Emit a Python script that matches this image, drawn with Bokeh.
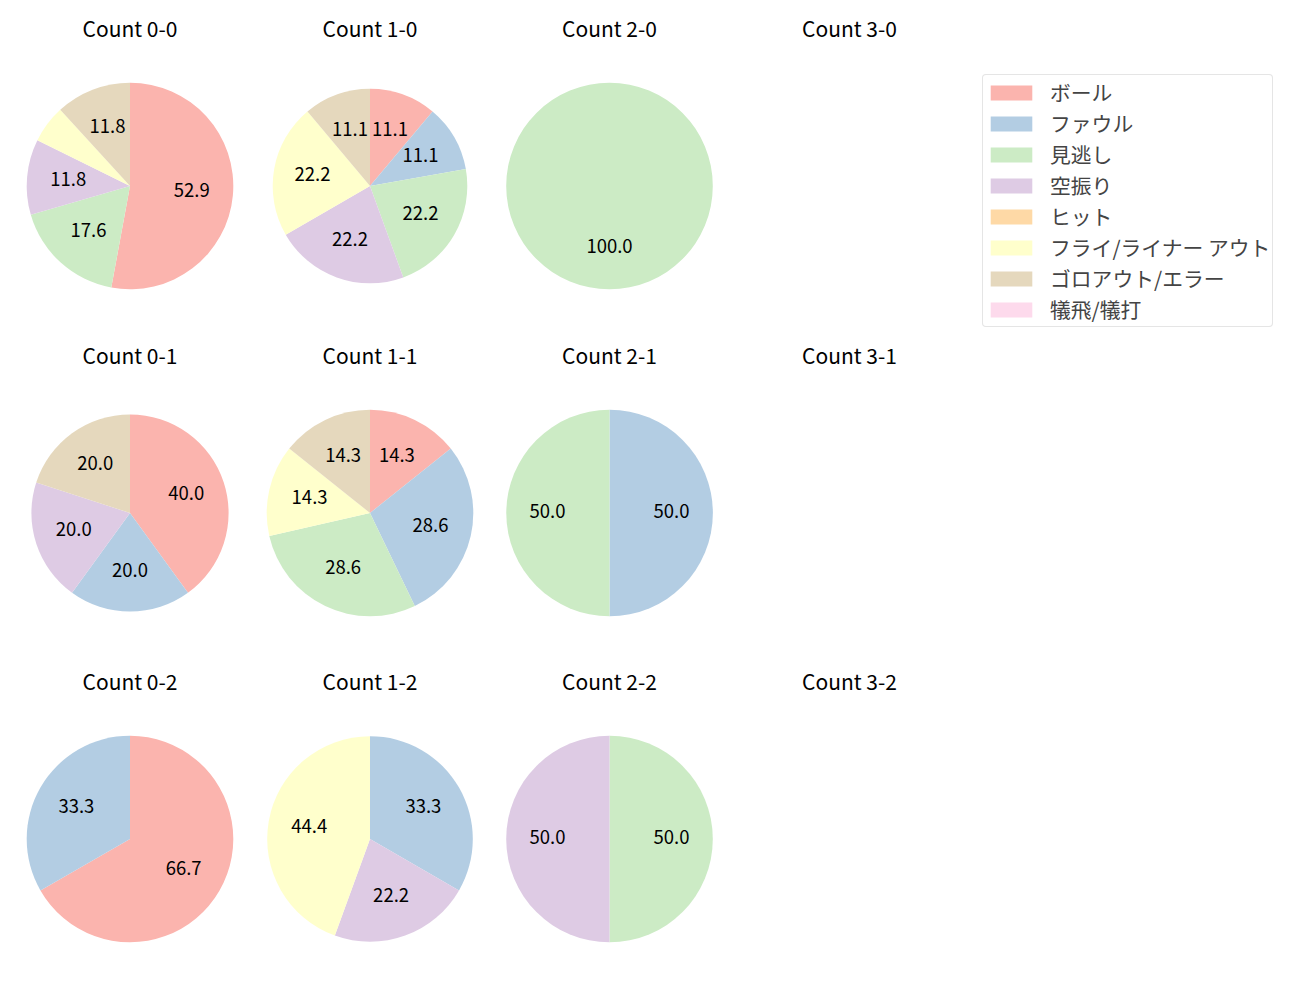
import math
from bokeh.plotting import figure
from bokeh.models import ColumnDataSource, Legend, LegendItem, Range1d
from bokeh.embed import file_html
from bokeh.resources import INLINE
from bokeh.core.properties import value

# ---------------- data ----------------
categories = ["ボール", "ファウル", "見逃し", "空振り", "ヒット",
              "フライ/ライナー アウト", "ゴロアウト/エラー", "犠飛/犠打"]
colors = ["#fbb4ae", "#b3cde3", "#ccebc5", "#decbe4",
          "#fed9a6", "#ffffcc", "#e5d8bd", "#fddaec"]

balls = [0, 1, 2, 3]
strikes = [0, 1, 2]

# percentage of each category (same order as categories) per count "balls-strikes"
pct_0_0 = [52.9, 0, 17.6, 11.8, 0, 5.9, 11.8, 0]
pct_1_0 = [11.1, 11.1, 22.2, 22.2, 0, 22.2, 11.1, 0]
pct_2_0 = [0, 0, 100.0, 0, 0, 0, 0, 0]
pct_3_0 = []
pct_0_1 = [40.0, 20.0, 0, 20.0, 0, 0, 20.0, 0]
pct_1_1 = [14.3, 28.6, 28.6, 0, 0, 14.3, 14.3, 0]
pct_2_1 = [0, 50.0, 50.0, 0, 0, 0, 0, 0]
pct_3_1 = []
pct_0_2 = [66.7, 33.3, 0, 0, 0, 0, 0, 0]
pct_1_2 = [0, 33.3, 0, 22.2, 0, 44.4, 0, 0]
pct_2_2 = [0, 0, 50.0, 50.0, 0, 0, 0, 0]
pct_3_2 = []

panels = {
    (0, 0): pct_0_0, (1, 0): pct_1_0, (2, 0): pct_2_0, (3, 0): pct_3_0,
    (0, 1): pct_0_1, (1, 1): pct_1_1, (2, 1): pct_2_1, (3, 1): pct_3_1,
    (0, 2): pct_0_2, (1, 2): pct_1_2, (2, 2): pct_2_2, (3, 2): pct_3_2,
}

# ---------------- layout (pixels) ----------------
W, H = 1300, 1000
col_x = [129.5, 369.5, 609.0, 849.0]
row_y = [185.5, 512.5, 838.5]
title_base = [27.0, 354.0, 680.0]
radius_default = 103.3
radius_special = {(1, 0): 97.3, (0, 1): 98.6, (1, 2): 102.8}
label_lift = 2.0
FONT = "Noto Sans CJK JP"

p = figure(width=W, height=H, x_range=Range1d(0, W), y_range=Range1d(0, H),
           output_backend="svg", toolbar_location=None,
           x_axis_location=None, y_axis_location=None, min_border=0)
p.grid.visible = False
p.outline_line_color = None

wedge_data = {k: dict(x=[], y=[], r=[], s=[], e=[]) for k in range(len(categories))}
full_data = {k: dict(x=[], y=[], r=[]) for k in range(len(categories))}
lab = dict(x=[], y=[], t=[])
tit = dict(x=[], y=[], t=[])
first_center = None

for (b, s), vals in panels.items():
    cx = col_x[b]
    cy = H - row_y[s]
    if first_center is None:
        first_center = (cx, cy)
    tit["x"].append(cx)
    tit["y"].append(H - title_base[s])
    tit["t"].append(f"Count {b}-{s}")
    if not vals:
        continue
    r = radius_special.get((b, s), radius_default)
    total = sum(vals)
    cum = 0.0
    for k, v in enumerate(vals):
        if v <= 0:
            continue
        a0 = 90.0 - 360.0 * cum / total
        cum += v
        a1 = 90.0 - 360.0 * cum / total
        if v >= total - 1e-9:
            full_data[k]["x"].append(cx)
            full_data[k]["y"].append(cy)
            full_data[k]["r"].append(r)
        else:
            d = wedge_data[k]
            d["x"].append(cx)
            d["y"].append(cy)
            d["r"].append(r)
            d["s"].append(math.radians(a1))
            d["e"].append(math.radians(a0))
        if v >= 10:
            mid = math.radians((a0 + a1) / 2.0)
            lab["x"].append(cx + 0.6 * r * math.cos(mid))
            lab["y"].append(cy + 0.6 * r * math.sin(mid) + label_lift)
            lab["t"].append(f"{v:.1f}")

items = []
for k, cat in enumerate(categories):
    d = wedge_data[k]
    if not d["x"]:
        # zero-size wedge so the legend still shows this category's swatch
        d["x"].append(first_center[0])
        d["y"].append(first_center[1])
        d["r"].append(0.0)
        d["s"].append(0.0)
        d["e"].append(0.0)
    rr = p.wedge(x="x", y="y", radius="r", start_angle="s", end_angle="e",
                 direction="anticlock", fill_color=colors[k], line_color=None,
                 source=ColumnDataSource(d))
    if full_data[k]["x"]:
        p.circle(x="x", y="y", radius="r", fill_color=colors[k], line_color=None,
                 source=ColumnDataSource(full_data[k]))
    items.append(LegendItem(label=cat, renderers=[rr]))

p.text(x="x", y="y", text="t", source=ColumnDataSource(lab),
       text_font=value(FONT), text_font_size="18.5px", text_color="black",
       text_align="center", text_baseline="middle")
p.text(x="x", y="y", text="t", source=ColumnDataSource(tit),
       text_font=value(FONT), text_font_size="21px", text_color="black",
       text_align="center", text_baseline="alphabetic")

legend = Legend(items=items, location=(982, 673), orientation="vertical",
                label_text_font=FONT, label_text_font_size="20.8px",
                glyph_width=52, glyph_height=19, label_height=20,
                spacing=1, padding=2, margin=0, label_standoff=13,
                border_line_color="#cccccc", border_line_width=1,
                background_fill_color="white", background_fill_alpha=1.0)
if "border_radius" in Legend.properties():
    legend.border_radius = 4
p.add_layout(legend)

open("out.html", "w").write(file_html(p, INLINE))
